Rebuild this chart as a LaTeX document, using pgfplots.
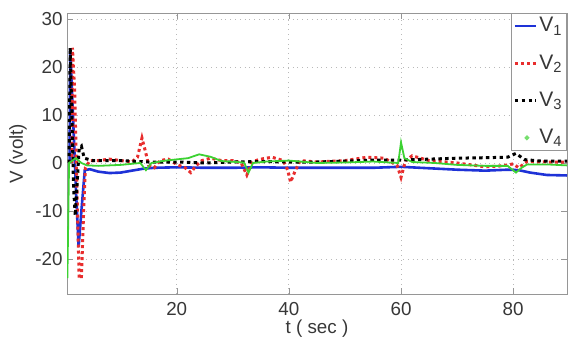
\documentclass[border=0pt]{standalone}
\usepackage{fontspec}
\setmainfont{Liberation Sans}
\usepackage{pgfplots}
\pgfplotsset{compat=1.18}
\definecolor{vblue}{RGB}{30,50,215}
\definecolor{vred}{RGB}{232,45,45}
\definecolor{vgreen}{RGB}{60,210,50}
\definecolor{frame}{RGB}{150,150,150}
\definecolor{ticktext}{RGB}{55,55,55}
\begin{document}
\fontsize{9.4}{11}\selectfont
\begin{tikzpicture}
\begin{axis}[
  scale only axis, width=250pt, height=140.5pt,
  xmin=0.43, xmax=89.6, ymin=-27.3, ymax=31.25,
  xtick={20,40,60,80}, ytick={-20,-10,0,10,20,30},
  /pgf/number format/assume math mode=true,
  tick align=inside, major tick length=3pt,
  tick style={frame}, axis line style={frame},
  grid=major, major grid style={dotted, gray!55},
  ticklabel style={font=\fontsize{9.4}{11}\selectfont, text=ticktext},
  yticklabel style={inner sep=0pt, xshift=-2pt},
  xticklabel style={inner sep=0pt, yshift=-4pt},
  xlabel={t ( sec )}, ylabel={V (volt)},
  label style={font=\fontsize{9.4}{11}\selectfont, text=ticktext},
  xlabel style={at={(axis description cs:0.5,-0.1245)}, anchor=center},
  ylabel style={at={(axis description cs:-0.098,0.5)}, anchor=center},
  legend style={at={(1,1)}, anchor=north east, draw=frame, inner sep=1pt,
    row sep=8pt, font=\fontsize{10.5}{12}\selectfont, text=ticktext, fill=white,
    nodes={inner sep=1pt}},
  legend cell align=left,
  legend image code/.code={\draw[#1] (0pt,0pt) -- (10.5pt,0pt);},
]
\addplot[vblue, line width=1.3pt] coordinates {
(0.9,0) (1.0,23.5) (1.5,10) (2.0,-5) (2.5,-17.5) (3.0,-10) (3.6,-1.5) (4.5,-1.3)
(6,-1.8) (8,-2.1) (10,-2.0) (12,-1.6) (14,-1.2) (16,-1.0) (20,-0.9) (25,-1.0)
(30,-1.0) (35,-0.9) (40,-1.0) (45,-1.0) (50,-1.0) (55,-1.0) (60,-0.8) (65,-1.1)
(70,-1.4) (75,-1.6) (79,-1.4) (81,-1.5) (83,-2.0) (86,-2.5) (89.6,-2.6)};
\addlegendentry{V\textsubscript{1}}
\addplot[vred, line width=1.5pt, dash pattern=on 1.5pt off 1.5pt] coordinates {
(1.3,0) (1.4,24) (1.8,15) (2.1,0) (2.4,-15) (2.6,-24) (3.0,-24) (3.4,-10) (3.7,-1)
(4.5,0.5) (6,0.5) (8,0.8) (10,0.5) (12,0.2) (13,1.2) (13.8,5.2) (14.5,2) (15,-0.5)
(16,-1) (17,0.5) (18.5,0.8) (20,-0.3) (21.5,-1) (22.5,-2) (23.5,-0.5) (24.5,0.5)
(26,1) (28,0.5) (30,0.5) (31.5,0) (32.5,-2.5) (33.5,0.3) (35,0.8) (37,1.2) (39,0.5)
(39.8,-1.5) (40.3,-4) (41,-2) (42,0.5) (45,0.2) (50,0.5) (54,1.2) (57,1.0)
(59.3,-0.5) (60,-3) (60.8,0.5) (62,1.5) (65,0.5) (70,0) (75,-0.8) (78,-0.6)
(80,-0.2) (81,-1) (82.5,0.3) (86,0.2) (89.6,0.2)};
\addlegendentry{V\textsubscript{2}}
\addplot[black, line width=1.5pt, dash pattern=on 1.7pt off 1.7pt] coordinates {
(0.8,0) (1.0,24) (1.3,10) (1.6,-5) (1.9,-11) (2.2,-5) (2.6,3) (3.0,3.5) (3.5,1)
(5,0.5) (10,0.5) (15,0.2) (20,0.2) (25,0) (30,0.2) (35,0.3) (40,0.2) (45,0.2)
(50,0.4) (55,0.6) (60,0.6) (65,0.8) (70,1.0) (75,1.1) (79,1.2) (80.5,2) (82,0.7)
(85,0.4) (89.6,0.4)};
\addlegendentry{V\textsubscript{3}}
\addplot[vgreen, line width=0.9pt, legend image code/.code={\fill[vgreen!70] (6pt,0pt) circle (0.7pt);}] coordinates {
(0.5,-24) (0.8,0) (2,1) (3,0) (4,-0.5) (6,-0.6) (10,-0.4) (13.5,0) (14.5,-1.5)
(15.5,0) (18,0.5) (22,1) (24,1.8) (26,1.3) (28,0.4) (32,0.1) (32.8,-2) (33.6,0)
(36,0.3) (40,0.5) (45,0) (50,0.1) (55,0.3) (59.5,0) (60,4.3) (60.6,1) (62,0.2)
(66,0) (70,-0.4) (75,-0.6) (79,-0.6) (80.5,-2) (81.5,-1) (82.5,-0.3) (86,-0.3) (89.6,-0.5)};
\addlegendentry{V\textsubscript{4}}
\end{axis}
\pgfresetboundingbox
\path ([xshift=-33.5pt,yshift=-24pt]current axis.south west) rectangle ([xshift=0.5pt,yshift=6.5pt]current axis.north east);
\end{tikzpicture}
\end{document}
